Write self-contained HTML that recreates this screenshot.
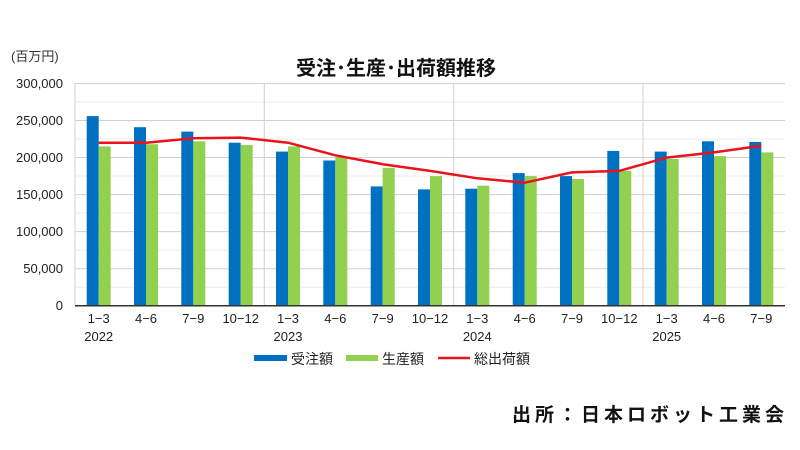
<!DOCTYPE html>
<html><head><meta charset="utf-8"><style>
body{margin:0;background:#fff;}
svg{display:block;font-family:"Liberation Sans","Noto Sans CJK JP",sans-serif;}
</style></head><body>
<svg width="800" height="450" viewBox="0 0 800 450" xmlns="http://www.w3.org/2000/svg">
<rect width="800" height="450" fill="#fff"/>
<text x="11" y="61" font-size="13" fill="#333">(百万円)</text>
<text x="396" y="75" font-size="20" font-weight="bold" text-anchor="middle" fill="#111">受注･生産･出荷額推移</text>
<g stroke="#ececec" stroke-width="1">
<line x1="75" x2="785" y1="287.2" y2="287.2"/><line x1="75" x2="785" y1="250.1" y2="250.1"/><line x1="75" x2="785" y1="213.1" y2="213.1"/><line x1="75" x2="785" y1="176" y2="176"/><line x1="75" x2="785" y1="139" y2="139"/><line x1="75" x2="785" y1="102" y2="102"/>
</g>
<g stroke="#d0d0d0" stroke-width="1">
<line x1="75" x2="785" y1="268.7" y2="268.7"/><line x1="75" x2="785" y1="231.6" y2="231.6"/><line x1="75" x2="785" y1="194.6" y2="194.6"/><line x1="75" x2="785" y1="157.5" y2="157.5"/><line x1="75" x2="785" y1="120.5" y2="120.5"/><line x1="75" x2="785" y1="83.5" y2="83.5"/>
<line x1="75" x2="75" y1="83.5" y2="305.7"/><line x1="264.3" x2="264.3" y1="83.5" y2="305.7"/><line x1="453.7" x2="453.7" y1="83.5" y2="305.7"/><line x1="643" x2="643" y1="83.5" y2="305.7"/>
</g>
<g fill="#0070c0">
<rect x="86.7" y="116.1" width="12" height="189.6"/>
<rect x="134" y="127.2" width="12" height="178.5"/>
<rect x="181.3" y="131.6" width="12" height="174.1"/>
<rect x="228.7" y="142.7" width="12" height="163"/>
<rect x="276" y="151.6" width="12" height="154.1"/>
<rect x="323.3" y="160.5" width="12" height="145.2"/>
<rect x="370.7" y="186.4" width="12" height="119.3"/>
<rect x="418" y="189.4" width="12" height="116.3"/>
<rect x="465.3" y="188.7" width="12" height="117"/>
<rect x="512.7" y="173.1" width="12" height="132.6"/>
<rect x="560" y="176.1" width="12" height="129.6"/>
<rect x="607.3" y="150.9" width="12" height="154.8"/>
<rect x="654.7" y="151.6" width="12" height="154.1"/>
<rect x="702" y="141.3" width="12" height="164.4"/>
<rect x="749.3" y="142" width="12" height="163.7"/>
</g>
<g fill="#92d050">
<rect x="98.7" y="146.4" width="12" height="159.3"/>
<rect x="146" y="144.2" width="12" height="161.5"/>
<rect x="193.3" y="141.3" width="12" height="164.4"/>
<rect x="240.7" y="145" width="12" height="160.7"/>
<rect x="288" y="146.4" width="12" height="159.3"/>
<rect x="335.3" y="156.8" width="12" height="148.9"/>
<rect x="382.7" y="167.9" width="12" height="137.8"/>
<rect x="430" y="176.1" width="12" height="129.6"/>
<rect x="477.3" y="185.7" width="12" height="120"/>
<rect x="524.7" y="176.1" width="12" height="129.6"/>
<rect x="572" y="179" width="12" height="126.7"/>
<rect x="619.3" y="170.9" width="12" height="134.8"/>
<rect x="666.7" y="159" width="12" height="146.7"/>
<rect x="714" y="156.1" width="12" height="149.6"/>
<rect x="761.3" y="152.4" width="12" height="153.3"/>
</g>
<line x1="75" x2="785" y1="305.7" y2="305.7" stroke="#333" stroke-width="1.5"/>
<polyline fill="none" stroke="#e8141c" stroke-width="2.5" stroke-linejoin="round" points="98.7,142.7 146,142.7 193.3,138.3 240.7,137.6 288,142.7 335.3,155.3 382.7,164.2 430,170.9 477.3,178.3 524.7,182.7 572,172.4 619.3,170.9 666.7,157.6 714,152.4 761.3,145.7"/>
<g font-size="13" fill="#222" text-anchor="end">
<text x="63" y="310">0</text><text x="63" y="273">50,000</text><text x="63" y="236">100,000</text><text x="63" y="199">150,000</text><text x="63" y="162">200,000</text><text x="63" y="125">250,000</text><text x="63" y="88">300,000</text>
</g>
<g font-size="13" fill="#222" text-anchor="middle">
<text x="98.7" y="323">1−3</text><text x="146" y="323">4−6</text><text x="193.3" y="323">7−9</text><text x="240.7" y="323">10−12</text>
<text x="288" y="323">1−3</text><text x="335.3" y="323">4−6</text><text x="382.7" y="323">7−9</text><text x="430" y="323">10−12</text>
<text x="477.3" y="323">1−3</text><text x="524.7" y="323">4−6</text><text x="572" y="323">7−9</text><text x="619.3" y="323">10−12</text>
<text x="666.7" y="323">1−3</text><text x="714" y="323">4−6</text><text x="761.3" y="323">7−9</text>
<text x="98.7" y="341">2022</text><text x="288" y="341">2023</text><text x="477.3" y="341">2024</text><text x="666.7" y="341">2025</text>
</g>
<rect x="254" y="355" width="33" height="6" fill="#0070c0"/>
<text x="291" y="364" font-size="14" fill="#222">受注額</text>
<rect x="346" y="355" width="32" height="6" fill="#92d050"/>
<text x="382" y="364" font-size="14" fill="#222">生産額</text>
<line x1="438" x2="470" y1="358" y2="358" stroke="#e8141c" stroke-width="2.5"/>
<text x="474" y="364" font-size="14" fill="#222">総出荷額</text>
<text x="512" y="421" font-size="19" font-weight="bold" fill="#111" letter-spacing="4">出所：日本ロボット工業会</text>
</svg>
</body></html>
